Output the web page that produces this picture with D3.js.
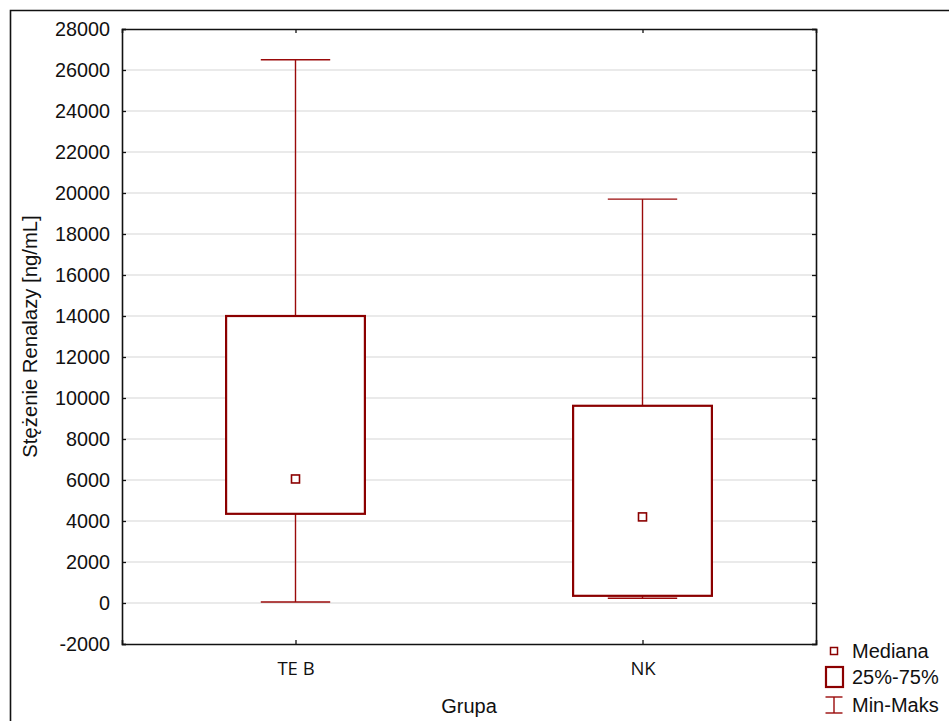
<!DOCTYPE html>
<html>
<head>
<meta charset="utf-8">
<script src="https://cdn.jsdelivr.net/npm/d3@7"></script>
<style>
  html, body { margin: 0; padding: 0; background: #fff; }
  svg { display: block; }
</style>
</head>
<body>
<svg id="chart" width="949" height="721"></svg>
<script>
// Renalase concentration by group: min / quartiles / median / max
const groups = ["TE B", "NK"];
const minVals = [50, 230];
const q1Vals = [4350, 350];
const medianVals = [6050, 4200];
const q3Vals = [14000, 9620];
const maxVals = [26500, 19700];
const yTicks = [-2000, 0, 2000, 4000, 6000, 8000, 10000, 12000, 14000, 16000, 18000, 20000, 22000, 24000, 26000, 28000];
const legendLabels = ["Mediana", "25%-75%", "Min-Maks"];

const boxColor = "#8b0000";
const whiskerColor = "#9a0a0a";
const labelFont = "'Liberation Sans', Arial, sans-serif";

const svg = d3.select("#chart");

const plot = { left: 122, right: 816, top: 29, bottom: 644 };

const x = d3.scalePoint().domain(groups).range([plot.left, plot.right]).padding(0.5);
const y = d3.scaleLinear().domain([-2000, 28000]).range([plot.bottom, plot.top]);

const rows = groups.map((g, i) => ({
  group: g, min: minVals[i], q1: q1Vals[i], median: medianVals[i], q3: q3Vals[i], max: maxVals[i]
}));

// outer frame (runs off the right and bottom edges)
svg.append("path")
  .attr("d", "M10.5,760 V10.5 H990")
  .attr("fill", "none").attr("stroke", "#111").attr("stroke-width", 1.6);

// horizontal gridlines
svg.append("g")
  .selectAll("line")
  .data(yTicks.filter(t => t > y.domain()[0] && t < y.domain()[1]))
  .join("line")
  .attr("x1", plot.left).attr("x2", plot.right)
  .attr("y1", d => y(d)).attr("y2", d => y(d))
  .attr("stroke", "#d6d6d6").attr("stroke-width", 1.2);

// axes with inward ticks on all four sides; plain hyphen for negatives
const fmt = d => String(d);
const axisLeft = svg.append("g").attr("transform", `translate(${plot.left},0)`)
  .call(d3.axisLeft(y).tickValues(yTicks).tickFormat(fmt).tickSize(-4).tickPadding(12));
const axisRight = svg.append("g").attr("transform", `translate(${plot.right},0)`)
  .call(d3.axisRight(y).tickValues(yTicks).tickFormat("").tickSize(-4));
const axisBottom = svg.append("g").attr("transform", `translate(0,${plot.bottom})`)
  .call(d3.axisBottom(x).tickSize(-4).tickPadding(18));
const axisTop = svg.append("g").attr("transform", `translate(0,${plot.top})`)
  .call(d3.axisTop(x).tickFormat("").tickSize(-4));

[axisLeft, axisRight, axisBottom, axisTop].forEach(a => {
  a.select(".domain").attr("stroke", "#111").attr("stroke-width", 1.6);
  a.selectAll(".tick line").attr("stroke", "#111").attr("stroke-width", 1.3);
});
axisLeft.selectAll(".tick text")
  .attr("font-family", labelFont).attr("font-size", 19.8).attr("fill", "#111");
axisBottom.selectAll(".tick text")
  .attr("font-family", "'Open Sans', sans-serif").attr("font-size", 18.5).attr("fill", "#111");

// axis titles
svg.append("text")
  .attr("transform", `translate(37,${(plot.top + plot.bottom) / 2}) rotate(-90)`)
  .attr("text-anchor", "middle")
  .attr("font-family", labelFont).attr("font-size", 20.3).attr("fill", "#111")
  .text("Stężenie Renalazy [ng/mL]");
svg.append("text")
  .attr("x", (plot.left + plot.right) / 2).attr("y", 713)
  .attr("text-anchor", "middle")
  .attr("font-family", labelFont).attr("font-size", 20).attr("fill", "#111")
  .text("Grupa");

// boxes, whiskers, medians
const boxW = x.step() * 0.4;
const capW = x.step() * 0.2;
const g = svg.append("g");

const item = g.selectAll("g.box").data(rows).join("g").attr("class", "box");

item.append("line")
  .attr("x1", d => x(d.group)).attr("x2", d => x(d.group))
  .attr("y1", d => y(d.max)).attr("y2", d => y(d.q3))
  .attr("stroke", whiskerColor).attr("stroke-width", 1.4);
item.append("line")
  .attr("x1", d => x(d.group)).attr("x2", d => x(d.group))
  .attr("y1", d => y(d.q1)).attr("y2", d => y(d.min))
  .attr("stroke", whiskerColor).attr("stroke-width", 1.4);
item.append("line")
  .attr("x1", d => x(d.group) - capW / 2).attr("x2", d => x(d.group) + capW / 2)
  .attr("y1", d => y(d.max)).attr("y2", d => y(d.max))
  .attr("stroke", whiskerColor).attr("stroke-width", 1.4);
item.append("line")
  .attr("x1", d => x(d.group) - capW / 2).attr("x2", d => x(d.group) + capW / 2)
  .attr("y1", d => y(d.min)).attr("y2", d => y(d.min))
  .attr("stroke", whiskerColor).attr("stroke-width", 1.4);
item.append("rect")
  .attr("x", d => x(d.group) - boxW / 2).attr("width", boxW)
  .attr("y", d => y(d.q3)).attr("height", d => y(d.q1) - y(d.q3))
  .attr("fill", "#fff").attr("stroke", boxColor).attr("stroke-width", 2.2);
item.append("rect")
  .attr("x", d => x(d.group) - 4).attr("width", 8)
  .attr("y", d => y(d.median) - 4).attr("height", 8)
  .attr("fill", "#fff").attr("stroke", boxColor).attr("stroke-width", 1.6);

// legend
const legend = svg.append("g").attr("transform", "translate(834,0)");
const legendY = [651, 677, 705];

legend.append("rect")
  .attr("x", -3.5).attr("y", legendY[0] - 3.5).attr("width", 7).attr("height", 7)
  .attr("fill", "#fff").attr("stroke", boxColor).attr("stroke-width", 1.5);
legend.append("rect")
  .attr("x", -8).attr("y", legendY[1] - 10).attr("width", 17).attr("height", 20)
  .attr("fill", "#fff").attr("stroke", boxColor).attr("stroke-width", 2.2);
legend.append("line")
  .attr("x1", 0).attr("x2", 0).attr("y1", legendY[2] - 8).attr("y2", legendY[2] + 8)
  .attr("stroke", whiskerColor).attr("stroke-width", 1.4);
legend.append("line")
  .attr("x1", -8.5).attr("x2", 8.5).attr("y1", legendY[2] - 8).attr("y2", legendY[2] - 8)
  .attr("stroke", whiskerColor).attr("stroke-width", 1.4);
legend.append("line")
  .attr("x1", -8.5).attr("x2", 8.5).attr("y1", legendY[2] + 8).attr("y2", legendY[2] + 8)
  .attr("stroke", whiskerColor).attr("stroke-width", 1.4);

legend.selectAll("text").data(legendLabels).join("text")
  .attr("x", 18).attr("y", (d, i) => legendY[i] + 7)
  .attr("font-family", labelFont).attr("font-size", 20).attr("fill", "#111")
  .text(d => d);
</script>
</body>
</html>
